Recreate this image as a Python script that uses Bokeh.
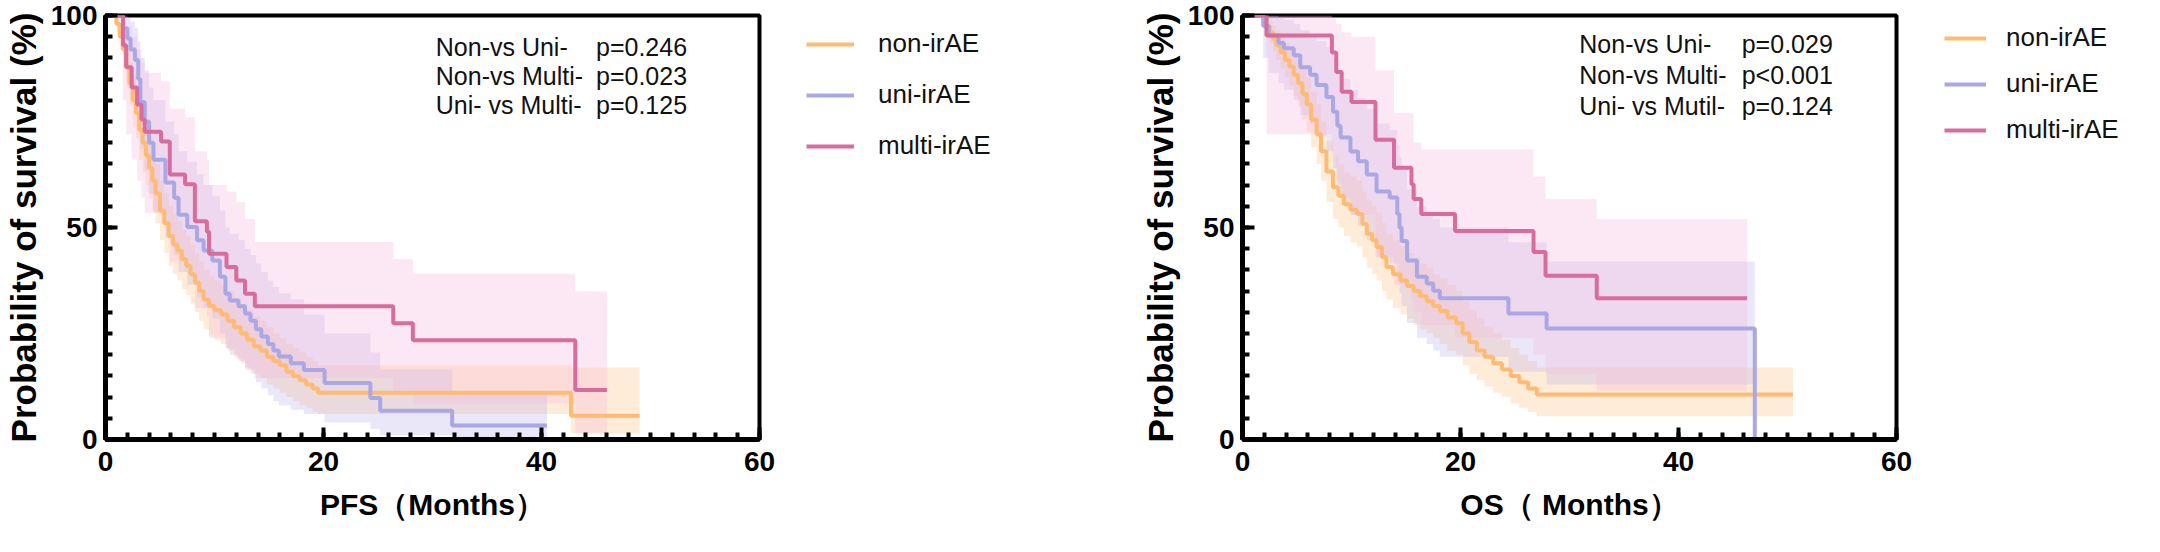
from bokeh.plotting import figure
from bokeh.models import Range1d, FixedTicker, Legend, LegendItem, Label
from bokeh.layouts import row
from bokeh.embed import file_html
from bokeh.resources import INLINE

# ---------------- DATA ----------------
groups = ["non-irAE", "uni-irAE", "multi-irAE"]

# PFS panel ------------------------------------------------------
pfs_non_t = [0, 1.0, 1.3, 1.6, 1.9, 2.2, 2.5, 2.8, 3.1, 3.4, 3.7, 4.0, 4.3, 4.6, 5.0, 5.4, 5.8, 6.2, 6.6, 7.0,
             7.4, 7.8, 8.2, 8.6, 9.0, 9.5, 10.0, 10.6, 11.2, 11.8, 12.4, 13.0, 13.6, 14.2, 14.8, 15.4, 16.0,
             16.6, 17.2, 17.8, 18.4, 19.0, 19.5, 42.7, 49.0]
pfs_non_s = [100, 98, 95, 92, 88, 84, 80, 77, 73, 70, 67, 64, 61, 58, 54, 51, 48, 46, 44.5, 42.5,
             41, 39, 37, 35, 33, 31.5, 30.5, 29.5, 28, 26.5, 25, 23.5, 22, 21, 19.5, 18.5, 17.5,
             16, 15, 14, 13, 12, 11, 5.6, 5.6]
pfs_non_lo = [100, 96, 92, 88, 83, 79, 74, 71, 66, 63, 60, 57, 54, 51, 47, 44, 41, 39, 37.5, 35.5,
              34, 32, 30, 28, 26, 24.5, 23.5, 22.5, 21, 19.5, 18, 16.5, 15.5, 14.5, 13, 12, 11,
              10, 9, 8, 7.5, 6.5, 6, 1.5, 1.5]
pfs_non_hi = [100, 99.5, 98, 95.5, 92.5, 89, 86, 83, 80, 77, 74, 71, 68, 65, 61, 58, 55, 53, 51.5, 49.5,
              48, 46, 44, 42, 40, 38.5, 37.5, 36.5, 35, 33.5, 32, 30.5, 29, 28, 26.5, 25, 24,
              22.5, 21.5, 20.5, 19.5, 18.5, 17.5, 17, 17]

pfs_uni_t = [0, 1.6, 2.0, 2.3, 2.7, 3.0, 3.2, 3.6, 4.0, 4.4, 5.5, 6.3, 6.7, 7.5, 8.4, 9.0, 9.8, 10.5,
             11.0, 11.4, 12.2, 12.8, 13.3, 13.8, 14.3, 14.9, 15.4, 15.9, 17.0, 18.2, 20.1, 24.3, 25.2,
             31.8, 40.5]
pfs_uni_s = [100, 97, 94.6, 92, 89.5, 85, 79.6, 75, 70, 66, 60.6, 57, 53, 50.1, 47, 44.6, 42.2, 38.4,
             34.4, 32.8, 31.4, 29.7, 28, 26, 24.3, 22.5, 21, 19.6, 18, 16.4, 13.3, 9.8, 6.8, 3.3, 3.3]
pfs_uni_lo = [100, 91, 87, 83.5, 80.5, 75, 68.5, 63.5, 58, 53.5, 47.5, 43.5, 39.5, 36.5, 33.5, 31, 28.5,
              25, 21.5, 20, 18.5, 17, 15.5, 13.5, 12, 10.5, 9, 8, 7, 6, 4, 2.5, 1, 0, 0]
pfs_uni_hi = [100, 100, 99.5, 98.5, 97, 94, 90, 87, 83, 80, 75, 72, 68, 65.5, 62.5, 60, 57.5, 54, 50,
              48.5, 47, 45, 43.5, 41.5, 39.5, 37.5, 36, 34.5, 33, 29.5, 25, 20.5, 16.5, 11, 11]

pfs_multi_t = [0, 1.6, 1.9, 2.4, 2.9, 3.3, 3.6, 5.1, 5.9, 7.3, 8.2, 9.3, 9.5, 11.1, 12.0, 12.8, 13.7,
               26.4, 28.2, 43.1, 46.0]
pfs_multi_s = [100, 93, 87.8, 83, 79, 75.5, 72.6, 70.3, 62.5, 60.2, 51.5, 49, 43.8, 40.7, 37.5, 34.4,
               31.4, 27.4, 23.4, 11.7, 11.7]
pfs_multi_lo = [100, 80, 72, 66, 61, 57, 53.5, 51, 42, 39.5, 31, 29, 24, 21.5, 19, 16.5, 14.5, 11.5,
                8.5, 1.5, 1.5]
pfs_multi_hi = [100, 99, 97.5, 95, 92, 89, 86.5, 84.5, 78, 76, 68, 66, 60, 58.5, 56, 52, 46.6, 42.6,
                39.1, 34.9, 34.9]

pfs_comparisons = ["Non-vs Uni-", "Non-vs Multi-", "Uni- vs Multi-"]
pfs_pvalues = ["p=0.246", "p=0.023", "p=0.125"]

# OS panel -------------------------------------------------------
os_non_t = [0, 1.9, 2.2, 2.5, 2.8, 3.1, 3.5, 3.9, 4.3, 4.7, 5.1, 5.5, 5.9, 6.3, 6.8, 7.2, 7.7, 8.3, 8.8,
            9.3, 9.9, 10.5, 11.0, 11.4, 11.9, 12.3, 12.8, 13.2, 13.8, 14.5, 15.1, 15.7, 16.3, 16.9,
            17.5, 18.1, 18.8, 19.6, 20.2, 20.8, 21.5, 22.2, 23.0, 23.8, 24.6, 25.4, 26.2, 27.0, 50.5]
os_non_s = [100, 99, 97.5, 96, 94.5, 93, 91.3, 89.5, 88, 86, 84, 81.5, 79, 75.5, 72, 68, 63.2, 59.5,
            57.5, 55.5, 54.2, 53.2, 50.8, 48.5, 47, 45.4, 43, 40.7, 39, 37.5, 36.2, 35, 33.8, 32.6,
            31.5, 30.3, 28.8, 27.4, 25, 23, 21, 19.5, 18, 16.5, 15, 13.5, 12, 10.6, 10.6]
os_non_lo = [100, 97.5, 95.5, 93.5, 91.5, 89.5, 87.5, 85.5, 83.5, 81, 78.5, 75.5, 72.5, 69, 65, 61, 56,
             52, 50, 48, 46.5, 45.5, 43, 40.5, 39, 37.5, 35, 33, 31, 29.5, 28.5, 27, 26, 25, 24, 22.5,
             21, 20, 17.5, 15.5, 14, 12.5, 11, 10, 8.5, 7.5, 6.5, 5.5, 5.5]
os_non_hi = [100, 100, 99.5, 98.5, 97.5, 96.5, 95, 93.5, 92.5, 91, 89.5, 87.5, 85.5, 82, 79, 75, 70.5,
             67, 65, 63, 62, 61, 58.5, 56.5, 55, 53.5, 51, 48.5, 47, 45.5, 44, 43, 41.5, 40.5, 39, 38,
             36.5, 35, 32.5, 30.5, 28.5, 26.5, 25, 23.5, 21.5, 20, 18.5, 17, 17]

os_uni_t = [0, 1.9, 2.4, 3.3, 3.8, 4.7, 5.3, 6.2, 6.8, 7.7, 8.3, 8.7, 9.0, 9.9, 10.6, 11.4, 12.3, 13.5,
            14.2, 14.4, 14.6, 15.1, 16.0, 16.9, 17.5, 18.1, 24.4, 27.9, 47.0]
os_uni_s = [100, 97.5, 95.3, 93.5, 92.3, 90.6, 87.8, 86, 83.6, 80.8, 77.3, 74, 71.2, 67.9, 65.6, 62.5,
            58.5, 57.1, 53.2, 50, 46.8, 42.2, 38.4, 36.8, 35.1, 33.3, 29.7, 26.2, 0]
os_uni_lo = [100, 90, 86.5, 84, 82.5, 80, 76.5, 74.5, 71.5, 68, 64, 60, 57, 53, 50.5, 47, 43, 41.5,
             37.5, 34.5, 31.5, 27.5, 24, 22.5, 21, 19.5, 16, 13, 0]
os_uni_hi = [100, 100, 100, 99.5, 99, 98, 96.5, 95.5, 94, 92.5, 90, 87.5, 85, 82.5, 80.5, 78, 74.5, 73,
             69.5, 66.5, 63.5, 59, 55, 53.5, 52, 50, 46.5, 42, 0]

os_multi_t = [0, 2.2, 8.2, 8.6, 9.1, 10.0, 12.2, 13.9, 15.5, 15.7, 16.4, 19.5, 26.7, 27.8, 32.5, 46.3]
os_multi_s = [100, 95.3, 91.3, 86.7, 82, 79.6, 70.7, 64.1, 60.2, 56.7, 53.2, 49.2, 44.2, 38.6, 33.3, 33.3]
os_multi_lo = [100, 72, 67, 61, 56, 53, 43, 36.5, 33, 30, 27, 24, 20, 15.5, 11.5, 11.5]
os_multi_hi = [100, 100, 99.5, 98, 96, 95, 87, 77, 77, 70, 68.4, 68.4, 62, 56.7, 52, 52]

os_comparisons = ["Non-vs Uni-", "Non-vs Multi-", "Uni- vs Mutil-"]
os_pvalues = ["p=0.029", "p<0.001", "p=0.124"]

y_ticks = [0, 50, 100]
x_ticks = [0, 20, 40, 60]

# ---------------- STYLE / LAYOUT ----------------
LINE_COLORS = ["#FDBB74", "#AAA8E4", "#D86C9C"]
BAND_COLORS = ["#FFC890", "#B8B0E8", "#F7B6DC"]
BAND_ALPHA = [0.35, 0.30, 0.32]
FONT = "Liberation Sans"
FRAME_W, FRAME_H = 654, 424
TOP, BOTTOM = 15, 97


def make_panel(curves, title_x, comparisons, pvalues, min_left,
               ann_x, pv_x, ann_y, ann_dy):
    p = figure(output_backend="svg", toolbar_location=None,
               frame_width=FRAME_W, frame_height=FRAME_H,
               min_border_left=min_left, min_border_right=20,
               min_border_top=TOP, min_border_bottom=BOTTOM,
               x_range=Range1d(0, 60), y_range=Range1d(0, 100))
    p.background_fill_color = "white"
    p.border_fill_color = "white"
    p.outline_line_color = "black"
    p.outline_line_width = 4
    p.xgrid.visible = False
    p.ygrid.visible = False

    for (t, s, lo, hi), fc, fa in zip(curves, BAND_COLORS, BAND_ALPHA):
        p.varea_step(x=t, y1=lo, y2=hi, step_mode="after", fill_color=fc, fill_alpha=fa)

    for (t, s, lo, hi), lc in zip(curves, LINE_COLORS):
        p.step(x=t, y=s, mode="after", line_color=lc, line_width=4)

    for ax in (p.xaxis[0], p.yaxis[0]):
        ax.axis_line_width = 5
        ax.axis_line_color = "black"
        ax.major_tick_line_width = 4
        ax.minor_tick_line_width = 4
        ax.major_tick_line_color = "black"
        ax.minor_tick_line_color = "black"
        ax.major_tick_in = 12
        ax.major_tick_out = 0
        ax.minor_tick_in = 7
        ax.minor_tick_out = 0
        ax.major_label_text_font = FONT
        ax.major_label_text_font_style = "bold"
        ax.major_label_text_font_size = "28px"
        ax.major_label_text_color = "black"
        ax.axis_label_text_font = FONT
        ax.axis_label_text_font_style = "bold"
        ax.axis_label_text_color = "black"

    p.yaxis.ticker = FixedTicker(ticks=y_ticks, minor_ticks=list(range(0, 101, 5)))
    p.xaxis.ticker = FixedTicker(ticks=x_ticks, minor_ticks=list(range(0, 61, 2)))
    p.yaxis.axis_label = "Probability of survival (%)"
    p.yaxis.axis_label_text_font_size = "35px"
    p.yaxis.axis_label_standoff = 5
    p.yaxis.major_label_standoff = 8
    p.xaxis.axis_label = title_x
    p.xaxis.axis_label_text_font_size = "30px"
    p.xaxis.axis_label_standoff = 14
    p.xaxis.major_label_standoff = 12

    for i, (c, pv) in enumerate(zip(comparisons, pvalues)):
        for xx, txt in ((ann_x, c), (pv_x, pv)):
            p.add_layout(Label(x=xx, y=ann_y - i * ann_dy, text=txt,
                               text_font=FONT, text_font_size="25px",
                               text_baseline="middle", text_align="left",
                               text_color="#111111"))
    return p


def make_legend_panel(curves, width, leg_loc, glyph_w, standoff, spacing):
    # legend-only panel: the same series are bound to it, but its x-range lies
    # before t=0, so only the legend keys are visible
    lp = figure(output_backend="svg", toolbar_location=None,
                frame_width=width, frame_height=FRAME_H,
                min_border_left=0, min_border_right=0,
                min_border_top=TOP, min_border_bottom=BOTTOM,
                x_axis_location=None, y_axis_location=None,
                x_range=Range1d(-20, -10), y_range=Range1d(0, 100))
    lp.outline_line_color = None
    lp.background_fill_color = "white"
    lp.border_fill_color = "white"
    lp.grid.visible = False
    rends = [lp.line(x=t, y=s, line_color=c, line_width=4)
             for (t, s, lo, hi), c in zip(curves, LINE_COLORS)]
    items = [LegendItem(label=g, renderers=[r]) for g, r in zip(groups, rends)]
    leg = Legend(items=items, location=leg_loc, orientation="vertical",
                 glyph_width=glyph_w, glyph_height=24,
                 label_height=24, label_standoff=standoff,
                 spacing=spacing, padding=0, margin=0,
                 label_text_font=FONT, label_text_font_size="26px",
                 label_text_color="#111111",
                 border_line_alpha=0, background_fill_alpha=0)
    lp.add_layout(leg, "center")
    return lp


pfs_curves = [(pfs_non_t, pfs_non_s, pfs_non_lo, pfs_non_hi),
              (pfs_uni_t, pfs_uni_s, pfs_uni_lo, pfs_uni_hi),
              (pfs_multi_t, pfs_multi_s, pfs_multi_lo, pfs_multi_hi)]
os_curves = [(os_non_t, os_non_s, os_non_lo, os_non_hi),
             (os_uni_t, os_uni_s, os_uni_lo, os_uni_hi),
             (os_multi_t, os_multi_s, os_multi_lo, os_multi_hi)]

p1 = make_panel(pfs_curves, "PFS（Months）", pfs_comparisons, pfs_pvalues,
                min_left=104, ann_x=30.3, pv_x=45.0, ann_y=92.5, ann_dy=6.8)
l1 = make_legend_panel(pfs_curves, 344, (27, 278), 48, 24, 20)
p2 = make_panel(os_curves, "OS（ Months）", os_comparisons, os_pvalues,
                min_left=119, ann_x=30.9, pv_x=45.8, ann_y=93.2, ann_dy=7.3)
l2 = make_legend_panel(os_curves, 229, (28, 294), 42, 20, 15)

layout = row(p1, l1, p2, l2)
open("out.html", "w").write(file_html(layout, INLINE))
